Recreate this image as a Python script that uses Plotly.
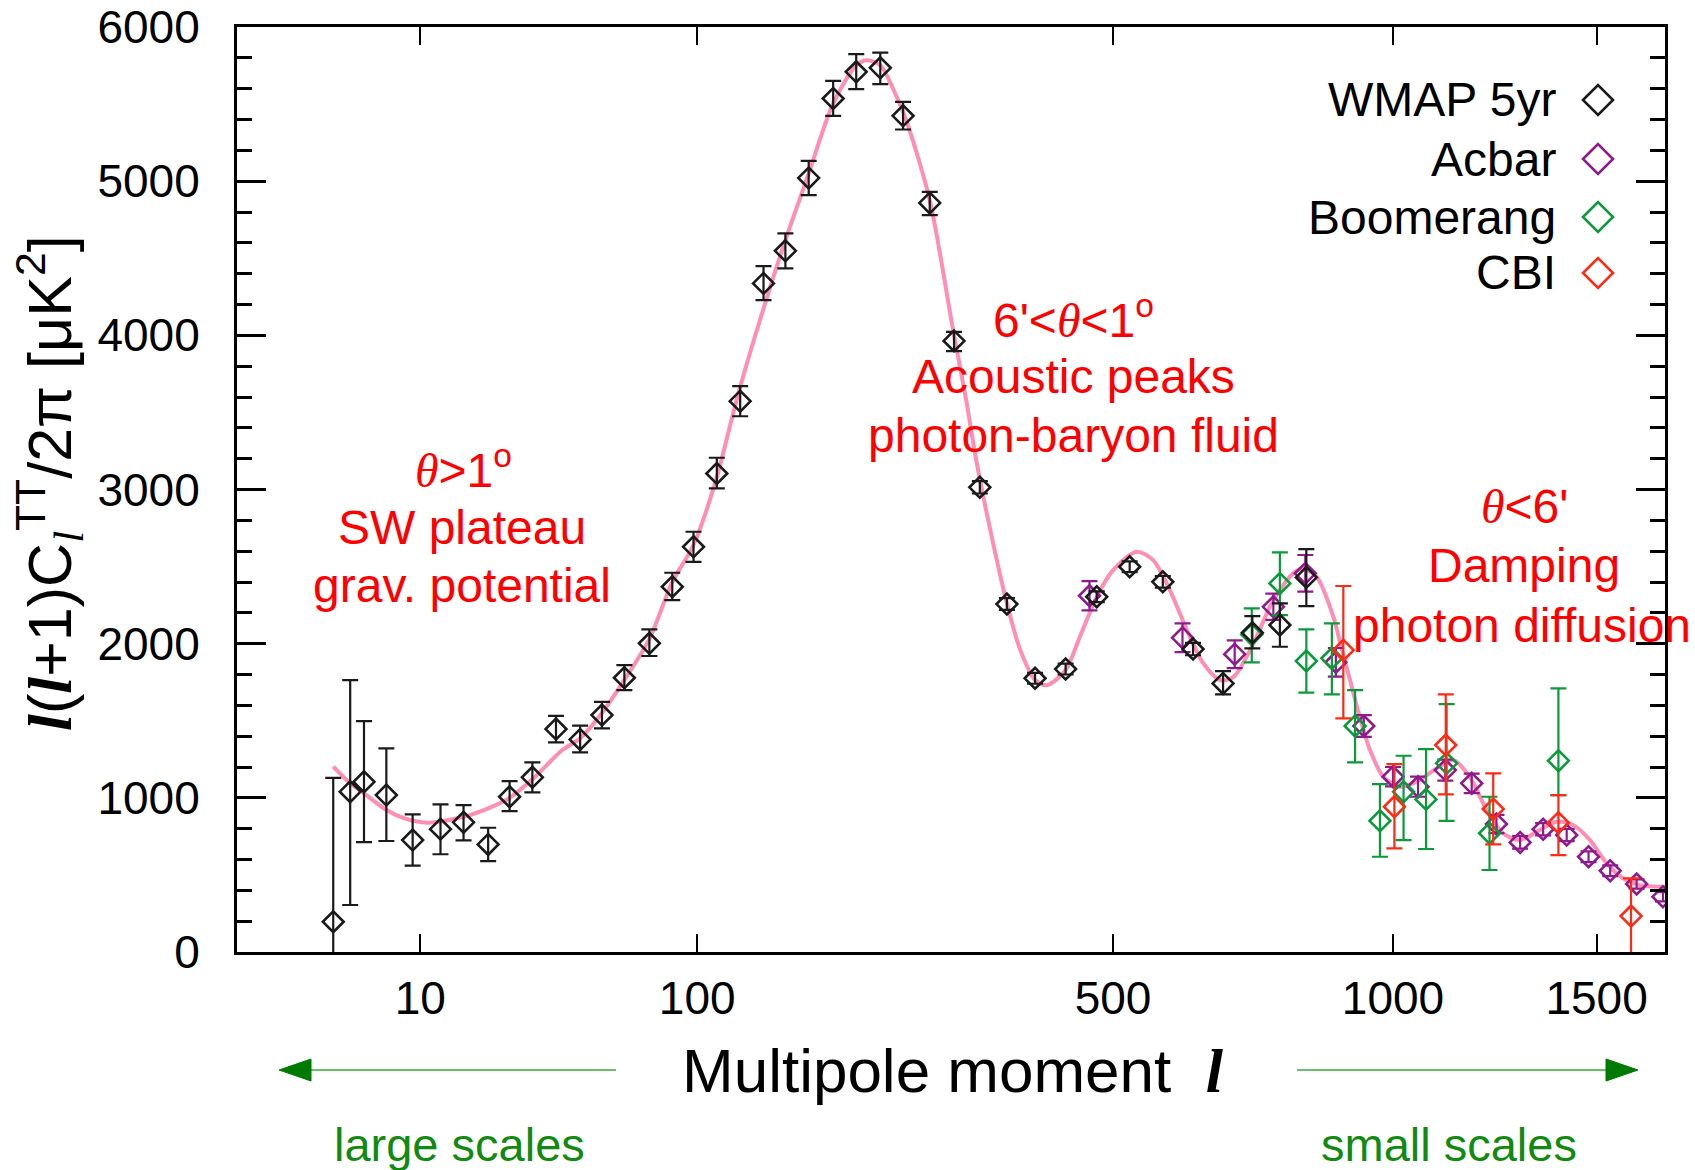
import numpy as np
import plotly.graph_objects as go

# ---------------- data ----------------
P = 0.4  # axis uses l**0.4 spacing

wmap_l = [2, 3, 4, 6, 9, 13, 17, 22, 27, 33, 40, 48, 56, 65, 76, 87, 98, 111, 125, 140,
          155, 172, 191, 210, 231, 252, 278, 303, 331, 362, 396, 435, 477, 524, 574, 622,
          672, 723, 773, 823]
wmap_d = [196, 1040, 1104, 1018, 726, 797, 841, 698, 1007, 1133, 1446, 1379, 1537, 1779,
          2002, 2369, 2628, 3104, 3573, 4337, 4548, 5021, 5536, 5709, 5735, 5424, 4859,
          3964, 3014, 2257, 1775, 1835, 2304, 2499, 2401, 1965, 1742, 2071, 2121, 2430]
wmap_up = [934, 724, 394, 303, 167, 161, 112, 108, 102, 97, 86, 89, 86, 82, 91, 91, 98, 102,
           98, 112, 113, 111, 115, 115, 99, 90, 72, 59, 40, 38, 35, 35, 35, 35, 38, 40, 80,
           108, 140, 183]
wmap_dn = [934, 735, 391, 298, 166, 163, 117, 108, 93, 97, 86, 84, 86, 80, 82, 86, 97, 97,
           98, 109, 114, 112, 112, 112, 106, 89, 79, 66, 40, 38, 35, 35, 35, 35, 38, 40, 71,
           102, 141, 186]

acbar_l = [467, 605, 692, 761, 821, 881, 938, 1000, 1055, 1117, 1179, 1239, 1298, 1357,
           1419, 1478, 1538, 1613, 1690]
acbar_d = [2311, 2038, 1932, 2239, 2456, 1879, 1466, 1137, 1072, 1180, 1094, 830, 711, 796,
           759, 618, 527, 441, 359]
acbar_err = [95, 93, 90, 85, 119, 93, 71, 63, 65, 68, 63, 59, 40, 40, 40, 35, 35, 30, 30]

boom_l = [722, 773, 823, 873, 920, 972, 1023, 1073, 1120, 1222, 1397]
boom_d = [2060, 2391, 1887, 1905, 1466, 851, 1040, 990, 1224, 770, 1241]
boom_up = [169, 201, 206, 226, 233, 238, 233, 326, 384, 237, 469]
boom_dn = [181, 206, 205, 234, 236, 233, 314, 322, 374, 238, 223]

cbi_l = [896, 1003, 1118, 1231, 1397, 1597]
cbi_d = [1958, 942, 1342, 927, 839, 233]
cbi_up = [416, 277, 329, 232, 179, 245]
cbi_dn = [442, 270, 319, 229, 210, 600]

model_l = [2, 3, 4, 6, 8, 11, 17, 22, 27, 33, 42, 48, 56, 65, 76, 87, 98, 111, 118, 125,
           140, 155, 172, 191, 210, 219, 231, 246, 255, 278, 302, 316, 327, 342, 362, 378,
           396, 411, 435, 454, 477, 500, 534, 559, 585, 612, 639, 667, 690, 725, 761, 798,
           817, 843, 876, 893, 910, 923, 951, 979, 1015, 1058, 1097, 1135, 1174, 1215, 1255,
           1297, 1348, 1392, 1436, 1482, 1528, 1574, 1621, 1700]
model_d = [1202, 1094, 1029, 921, 867, 839, 877, 932, 1000, 1120, 1310, 1386, 1550, 1765,
           2030, 2400, 2640, 3080, 3380, 3666, 4174, 4617, 5050, 5504, 5752, 5785, 5752,
           5547, 5395, 4877, 4034, 3580, 3191, 2758, 2261, 1958, 1764, 1731, 1829, 2045, 2304,
           2477, 2596, 2542, 2348, 2088, 1872, 1764, 1785, 2002, 2283, 2456, 2488, 2434, 2174,
           1960, 1760, 1600, 1310, 1137, 1072, 1115, 1191, 1245, 1137, 921, 770, 726, 791,
           845, 824, 726, 575, 478, 434, 423]

x_ticks = [10, 100, 500, 1000, 1500]
x_ticktext = ["10", "100", "500", "1000", "1500"]
y_ticks = [0, 1000, 2000, 3000, 4000, 5000, 6000]

series_names = ["WMAP 5yr", "Acbar", "Boomerang", "CBI"]
series_colors = ["#1a1a1a", "#8e1b8c", "#0b9a3a", "#ff2a14"]

# ---------------- helpers ----------------
def tx(vals):
    return np.asarray(vals, dtype=float) ** P

W, H = 1695, 1170
ML, MR, MT, MB = 237, 30, 27, 218
PW, PH = W - ML - MR, H - MT - MB

def px(x):
    return (x - ML) / PW

def py(y):
    return (H - MB - y) / PH

FONT = "Liberation Sans, Arial, Helvetica, sans-serif"
RED = "#ff0000"
GREEN = "#118a11"

fig = go.Figure()

fig.add_trace(go.Scatter(
    x=tx(model_l), y=model_d, mode="lines",
    line=dict(color="#ff8db4", width=4, shape="spline", smoothing=0.8),
    showlegend=False, hoverinfo="skip"))

def add_series(l, d, up, dn, color, name):
    fig.add_trace(go.Scatter(
        x=tx(l), y=d, mode="markers", name=name, showlegend=False,
        marker=dict(symbol="diamond-open", size=16, color=color, line=dict(width=2.6, color=color)),
        error_y=dict(type="data", array=up, arrayminus=dn, symmetric=False,
                     color=color, thickness=2.2, width=8)))

add_series(acbar_l, acbar_d, acbar_err, acbar_err, series_colors[1], series_names[1])
add_series(boom_l, boom_d, boom_up, boom_dn, series_colors[2], series_names[2])
add_series(cbi_l, cbi_d, cbi_up, cbi_dn, series_colors[3], series_names[3])
add_series(wmap_l, wmap_d, wmap_up, wmap_dn, series_colors[0], series_names[0])

ann = []
shapes = []

# custom legend (text to the left, diamond to the right)
leg_y = [100, 159, 217, 273]
for name, col, yy in zip(series_names, series_colors, leg_y):
    ann.append(dict(text=name, x=px(1558), y=py(yy), xref="paper", yref="paper",
                    xanchor="right", yanchor="middle", showarrow=False,
                    font=dict(family=FONT, size=48, color="black")))
    cx, cy, r = 1598, yy, 15
    path = "M {},{} L {},{} L {},{} L {},{} Z".format(
        px(cx - r), py(cy), px(cx), py(cy - r), px(cx + r), py(cy), px(cx), py(cy + r))
    shapes.append(dict(type="path", path=path, xref="paper", yref="paper",
                       line=dict(color=col, width=2.6), fillcolor="rgba(0,0,0,0)"))

th = "<span style=\"font-family:'Liberation Serif'\"><i>θ</i></span>"
red_text = [
    (th + "&gt;1<sup>o</sup>", 463, 467),
    ("SW plateau", 462, 527),
    ("grav. potential", 462, 585),
    ("6'&lt;" + th + "&lt;1<sup>o</sup>", 1073, 317),
    ("Acoustic peaks", 1073, 376),
    ("photon-baryon fluid", 1073, 435),
    (th + "&lt;6'", 1524, 506),
    ("Damping", 1524, 565),
    ("photon diffusion", 1522, 625),
]
for t, x, y in red_text:
    ann.append(dict(text=t, x=px(x), y=py(y), xref="paper", yref="paper",
                    xanchor="center", yanchor="middle", showarrow=False,
                    font=dict(family=FONT, size=48, color=RED)))

# axis titles
lsym = "<span style=\"font-family:'Liberation Serif'\"><b><i>l</i></b></span>"
lsub = "<span style=\"font-family:'Liberation Serif'\"><i>l</i></span>"
ytitle = (lsym + "(" + lsym + "+1)C<sub>" + lsub + "</sub><sup>TT</sup>/2π [μK<sup>2</sup>]")
ann.append(dict(text=ytitle, x=px(49), y=py(483), xref="paper", yref="paper",
                xanchor="center", yanchor="middle", textangle=-90, showarrow=False,
                font=dict(family=FONT, size=61, color="black")))
xtitle = "Multipole moment  " + lsym
ann.append(dict(text=xtitle, x=px(953), y=py(1070), xref="paper", yref="paper",
                xanchor="center", yanchor="middle", showarrow=False,
                font=dict(family=FONT, size=62, color="black")))

ann.append(dict(text="large scales", x=px(459), y=py(1144), xref="paper", yref="paper",
                xanchor="center", yanchor="middle", showarrow=False,
                font=dict(family=FONT, size=47, color=GREEN)))
ann.append(dict(text="small scales", x=px(1449), y=py(1144), xref="paper", yref="paper",
                xanchor="center", yanchor="middle", showarrow=False,
                font=dict(family=FONT, size=47, color=GREEN)))

# green arrows
ay = 1070
shapes.append(dict(type="line", xref="paper", yref="paper", x0=px(616), x1=px(300), y0=py(ay), y1=py(ay),
                   line=dict(color="#3aa83a", width=1.6)))
shapes.append(dict(type="path", xref="paper", yref="paper",
                   path="M {},{} L {},{} L {},{} Z".format(px(279), py(ay), px(311), py(ay - 11), px(311), py(ay + 11)),
                   fillcolor="#007a00", line=dict(color="#007a00", width=1)))
shapes.append(dict(type="line", xref="paper", yref="paper", x0=px(1297), x1=px(1615), y0=py(ay), y1=py(ay),
                   line=dict(color="#3aa83a", width=1.6)))
shapes.append(dict(type="path", xref="paper", yref="paper",
                   path="M {},{} L {},{} L {},{} Z".format(px(1638), py(ay), px(1606), py(ay - 11), px(1606), py(ay + 11)),
                   fillcolor="#007a00", line=dict(color="#007a00", width=1)))

fig.update_layout(
    width=W, height=H,
    margin=dict(l=ML, r=MR, t=MT, b=MB, pad=0, autoexpand=False),
    paper_bgcolor="white", plot_bgcolor="white",
    showlegend=False,
    annotations=ann, shapes=shapes,
    font=dict(family=FONT, color="black"),
    xaxis=dict(range=[0, 1696 ** P], tickvals=list(tx(x_ticks)), ticktext=x_ticktext,
               ticks="inside", ticklen=18, tickwidth=2, tickcolor="black",
               showline=True, linewidth=3, linecolor="black", mirror="ticks",
               showgrid=False, zeroline=False, ticklabelstandoff=4, automargin=False,
               tickfont=dict(family=FONT, size=46, color="black")),
    yaxis=dict(range=[0, 6000], tickvals=y_ticks,
               ticks="inside", ticklen=29, tickwidth=2.5, tickcolor="black",
               minor=dict(dtick=200, ticklen=15, tickwidth=2.5, ticks="inside", tickcolor="black", showgrid=False),
               showline=True, linewidth=3, linecolor="black", mirror="ticks",
               showgrid=False, zeroline=False, ticklabelstandoff=25, automargin=False,
               tickfont=dict(family=FONT, size=46, color="black")),
)

fig.write_html("out.html")
